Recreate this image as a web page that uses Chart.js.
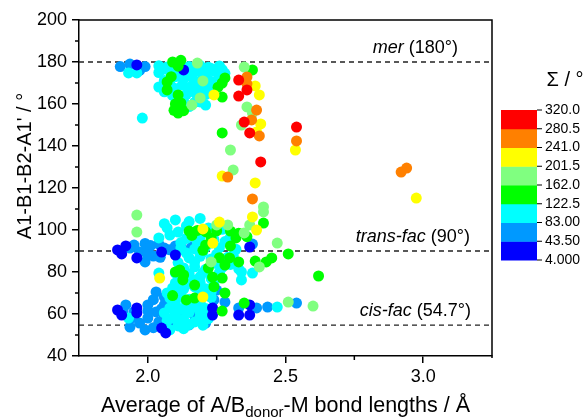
<!DOCTYPE html>
<html><head><meta charset="utf-8">
<script src="https://cdn.jsdelivr.net/npm/chart.js@4"></script>
<style>html,body{margin:0;padding:0;background:#fff}</style>
</head><body><canvas id="c" width="586" height="420"></canvas>
<script>
// ---- data ----
const xTicks = [2.0, 2.5, 3.0];
const xMinor = [2.25, 2.75];
const yTicks = [40, 60, 80, 100, 120, 140, 160, 180, 200];
const yMinor = [50, 70, 90, 110, 130, 150, 170, 190];
const refAngles = [180, 90, 54.7];
const refNames = ['mer', 'trans-fac', 'cis-fac'];
const refValues = ['(180°)', '(90°)', '(54.7°)'];
const sigmaBounds = ['4.000', '43.50', '83.00', '122.5', '162.0', '201.5', '241.0', '280.5', '320.0'];
const bandColors = ['#0000FF', '#0099FF', '#00FFFF', '#00FF00', '#80FF80', '#FFFF00', '#FF8000', '#FF0000'];

const sRed = [[2.33,171.4],[2.36,166.7],[2.33,163.8],[2.35,151.4],[2.37,146.2],[2.41,132.4],[2.54,149.0]];
const sOrange = [[2.36,172.9],[2.36,169.6],[2.395,157.1],[2.377,152.4],[2.405,144.8],[2.29,125.2],[2.38,114.8],[2.54,142.4],[2.92,127.6],[2.94,129.5]];
const sYellow = [[2.39,168.6],[2.405,164.3],[2.41,150.5],[2.395,146.7],[2.536,138.1],[2.27,125.7],[2.39,122.4],[2.38,106.2],[2.395,100],[2.975,115.2],[2.24,164.3],[2.26,103.8],[2.2,100.5],[2.236,93.8],[2.043,77.1],[2.2,68.1]];
const sLightGreen = [[2.18,179.5],[2.2,171],[2.16,159.5],[2.19,162.9],[2.35,177.6],[2.36,158.6],[2.38,155.7],[2.34,150],[2.3,138.1],[2.31,128.6],[2.42,111],[2.42,108.6],[2.35,98.6],[2.37,102.4],[1.96,107.1],[1.96,99],[2.25,102.4],[2.29,102.4],[2.47,93.8],[2.51,65.7],[2.6,63.8],[2.23,84.8],[2.405,82.4]];
const sGreen = [[2.09,180],[2.11,178],[2.12,180.8],[2.07,170.5],[2.07,166.7],[2.085,173],[2.11,164.3],[2.12,160.5],[2.11,155.7],[2.12,158],[2.1,160],[2.095,157],[2.13,156.8],[2.27,170],[2.28,172.4],[2.27,163.3],[2.255,168],[2.38,176.2],[2.27,146.2],
[2.42,103.3],[2.51,88.6],[2.45,86.7],[2.43,84.8],[2.39,85.2],[2.62,78.1],[2.35,65.2],[2.27,61.4],[2.15,99.5],[2.18,99.8],[2.21,99.2],[2.25,99.6],[2.30,99.5],[2.1,80],[2.116,81],[2.127,76.2],[2.235,77.6],[2.27,77.1],[2.297,86.7],[2.14,66.7],[2.28,70],[2.17,73.8],[2.22,81.9],[2.28,83.3],[2.32,96.2],[2.33,84.8],[2.17,67.6],[2.30,92.4],[2.21,92.9],
[2.16,97.4],[2.23,96.3],[2.2,90.3],[2.26,86.8],[2.13,78.6],[2.24,73],[2.09,68.8],[2.33,98.5],[2.36,96.8]];
const sCyan = [[2.04,178.2],[2.07,177.6],[2.10,178.4],[2.15,177.9],[2.19,178.3],[2.22,177.5],[2.26,178.1],
[2.04,175.0],[2.08,175.6],[2.12,174.8],[2.17,175.3],[2.21,175.0],[2.24,175.7],[2.28,174.6],
[2.06,171.2],[2.13,171.8],[2.17,171.0],[2.22,171.6],[2.25,171.1],
[2.10,167.4],[2.15,167.9],[2.19,167.2],[2.23,168.0],
[2.09,164.1],[2.14,164.6],[2.18,164.0],[2.21,164.5],
[2.13,161.2],[2.17,160.8],[2.04,168.1],[2.11,161.4],[2.21,159.5],[1.98,153.3],[1.93,174.8],[1.96,174.8],
[2.055,176.5],[2.09,176],[2.14,176.8],[2.185,176.2],[2.23,176.9],[2.27,176.4],[2.1,173],[2.15,173.4],[2.2,172.8],[2.26,173.2],[2.08,169.5],[2.125,169],[2.165,169.4],[2.21,169.6],[2.06,165.8],[2.16,166],[2.2,165.6],[2.12,162.8],[2.19,161],[2.15,158.8],
[2.10,104.8],[2.15,104],[2.19,105.5],[2.07,101],[2.14,101.9],[2.22,101],[2.27,100.3],
[2.04,96.2],[2.08,97.6],[2.14,96],[2.19,96.8],[2.24,95.5],[2.30,96.6],
[2.12,91.4],[2.17,91],[2.21,92],[2.26,91.6],[2.32,90.8],
[2.15,86.7],[2.19,87.5],[2.23,86.2],[2.29,87],
[2.13,81.9],[2.17,82.5],[2.21,81.3],[2.27,82.2],[2.33,81.5],
[2.12,77.1],[2.16,76.5],[2.19,77.8],[2.23,76.8],
[2.09,72.4],[2.13,71.8],[2.17,72.9],[2.21,72],
[2.08,67.6],[2.12,68.2],[2.15,67],[2.23,67.9],
[2.08,62.9],[2.12,62.2],[2.17,63.4],[2.21,62.6],
[2.09,58.1],[2.13,57.5],[2.19,58.6],[2.22,57.8],
[2.11,54.3],[2.15,55],[2.04,79.5],[2.34,80],[2.38,79.5],[2.34,76.2],[2.47,63.3],[1.93,58.1],
[2.06,103],[2.11,99],[2.17,99],[2.12,94],[2.18,94],[2.23,93.8],[2.28,94.5],[2.14,89],[2.2,89.5],[2.25,88.5],[2.31,88],[2.11,84.5],[2.17,84.8],[2.25,84],[2.3,83.6],[2.1,79.5],[2.15,79.2],[2.2,79.6],[2.26,79.8],[2.1,74.8],[2.15,74.5],[2.19,75],[2.24,74],[2.07,70],[2.11,70.4],[2.19,70],[2.23,70.5],[2.1,65],[2.14,65.3],[2.19,65.5],[2.06,60.5],[2.1,60.2],[2.15,60.8],[2.19,61],[2.07,56.8],[2.11,56.5],[2.17,56.2],[2.2,54.7],[2.13,53],[2.08,52.5]];
const sAzure = [[1.90,177.8],[1.99,177.8],[1.935,179],[1.97,176],
[1.935,91.4],[1.97,89.5],[2.0,90.5],[2.02,87.6],[2.06,91.4],[2.1,92.4],[2.13,90.5],[1.99,84.8],[2.04,93.3],[2.38,93.3],
[1.95,92.8],[1.99,93.6],[2.01,92.6],[2.08,90.6],[2.12,93.2],[2.16,92],[2.0,88.2],[2.045,87],
[2.03,70.5],[2.0,64.3],[1.92,64.3],[1.95,61],[2.0,58.1],[2.04,56.2],[2.08,54.3],[1.99,52.4],[1.935,53.8],[2.06,64.3],[2.03,61],[2.15,54.8],[2.21,55.7],[2.25,71.4],[2.28,65.7],[2.33,62.9],[2.395,62.9],[2.435,63.3],[2.54,65.2],[2.22,61.9],[2.24,66.7],
[1.94,58],[1.97,55.7],[2.02,53.5],[2.06,58.5],[2.1,57],[1.91,61.5],[2.0,61.5],[2.05,62.5],[2.09,63.4],[2.13,59.6],[2.17,58.9],[2.02,66.8],[2.06,68]];
const sBlue = [[1.96,178.6],[2.13,176.2],
[1.89,90.5],[1.92,92.4],[1.905,88.6],[1.96,86.7],[2.05,89.5],[2.1,88.1],[2.37,91.9],
[1.905,59.5],[1.89,61.9],[1.96,60.5],[1.96,62.9],[2.05,53.3],[2.065,51],[2.235,62.9],[2.235,59.5],[2.33,59.5],[2.37,64.3],[2.37,59.5]];

const X_MIN = 1.75, X_MAX = 3.25, Y_MIN = 40, Y_MAX = 200;
const FONT = '"Liberation Sans", Arial, sans-serif';

const series = [
  [sRed, bandColors[7], 1], [sOrange, bandColors[6], 2], [sYellow, bandColors[5], 3],
  [sLightGreen, bandColors[4], 4], [sGreen, bandColors[3], 5], [sBlue, bandColors[0], 6],
  [sCyan, bandColors[2], 7], [sAzure, bandColors[1], 8]
];
const datasets = series.map(([arr, col, ord]) => ({
  type: 'scatter', data: arr.map(p => ({x: p[0], y: p[1]})),
  backgroundColor: col, borderWidth: 0, pointRadius: 5.5, pointHoverRadius: 5.5, order: ord
}));
refAngles.forEach(a => datasets.push({
  type: 'line', data: [{x: X_MIN, y: a}, {x: X_MAX, y: a}], borderColor: '#222', borderWidth: 1.3,
  borderDash: [5, 4], pointRadius: 0, fill: false, order: 20
}));

const deco = {
  id: 'deco',
  afterDatasetsDraw(chart) {
    const {ctx, chartArea: ca, scales: {x, y}} = chart;
    ctx.save();
    ctx.fillStyle = '#000';
    ctx.textBaseline = 'middle';
    const rightOff = [34, 22, 21];
    refAngles.forEach((a, i) => {
      const py = y.getPixelForValue(a) - 14;
      ctx.font = '18px ' + FONT;
      const vw = ctx.measureText(' ' + refValues[i]).width;
      const xr = ca.right - rightOff[i];
      ctx.textAlign = 'right';
      ctx.fillText(' ' + refValues[i], xr, py);
      ctx.font = 'italic 18px ' + FONT;
      ctx.fillText(refNames[i], xr - vw, py);
    });
    ctx.strokeStyle = '#000'; ctx.lineWidth = 1.5;
    ctx.beginPath();
    ctx.moveTo(ca.left, ca.top); ctx.lineTo(ca.right, ca.top); ctx.lineTo(ca.right, ca.bottom + 2);
    ctx.stroke();
    ctx.beginPath();
    xMinor.forEach(v => { const px = x.getPixelForValue(v); ctx.moveTo(px, ca.bottom); ctx.lineTo(px, ca.bottom + 4); });
    yMinor.forEach(v => { const py = y.getPixelForValue(v); ctx.moveTo(ca.left, py); ctx.lineTo(ca.left - 4, py); });
    ctx.stroke();
    ctx.fillStyle = '#000';
    ctx.textBaseline = 'alphabetic';
    const t1 = 'Average of A/B', t3 = '-M bond lengths / Å';
    ctx.font = '21.5px ' + FONT; const w1 = ctx.measureText(t1).width, w3 = ctx.measureText(t3).width;
    ctx.font = '15px ' + FONT; const w2 = ctx.measureText('donor').width;
    let sx = (ca.left + ca.right) / 2 - (w1 + w2 + w3) / 2;
    const by = 412;
    ctx.textAlign = 'left';
    ctx.font = '21.5px ' + FONT; ctx.fillText(t1, sx, by);
    ctx.font = '15px ' + FONT; ctx.fillText('donor', sx + w1, by + 5);
    ctx.font = '21.5px ' + FONT; ctx.fillText(t3, sx + w1 + w2, by);
    ctx.save();
    ctx.font = '20px ' + FONT;
    ctx.translate(31, (ca.top + ca.bottom) / 2 - 22);
    ctx.rotate(-Math.PI / 2);
    ctx.textAlign = 'center';
    ctx.fillText("A1-B1-B2-A1' / °", 0, 0);
    ctx.restore();
    const cbL = 501, cbR = 537, cbT = 110, cbB = 260;
    const n = bandColors.length, bh = (cbB - cbT) / n;
    for (let i = 0; i < n; i++) {
      ctx.fillStyle = bandColors[i];
      ctx.fillRect(cbL, cbB - (i + 1) * bh, cbR - cbL, bh + 0.5);
    }
    ctx.strokeStyle = '#000'; ctx.lineWidth = 1;
    ctx.fillStyle = '#000';
    ctx.font = '14px ' + FONT; ctx.textAlign = 'left'; ctx.textBaseline = 'middle';
    sigmaBounds.forEach((lab, i) => {
      const py = cbB - i * bh;
      ctx.beginPath(); ctx.moveTo(cbR, py); ctx.lineTo(cbR + 5, py); ctx.stroke();
      ctx.fillText(lab, cbR + 8, py);
    });
    ctx.font = '20px ' + FONT; ctx.textAlign = 'center';
    ctx.fillText('Σ / °', 565, 80);
    ctx.restore();
  }
};

new Chart(document.getElementById('c'), {
  type: 'scatter',
  data: {datasets},
  plugins: [deco],
  options: {
    responsive: false, animation: false, devicePixelRatio: 1,
    layout: {padding: {left: 0, right: 94, top: 20, bottom: 0}},
    plugins: {legend: {display: false}, tooltip: {enabled: false}},
    scales: {
      x: {
        type: 'linear', min: X_MIN, max: X_MAX,
        afterBuildTicks: s => { s.ticks = xTicks.map(v => ({value: v})); },
        afterFit: s => { s.height = 64; },
        ticks: {font: {size: 18, family: FONT}, color: '#000', padding: 3, callback: v => v.toFixed(1), maxRotation: 0},
        grid: {drawOnChartArea: false, drawTicks: true, tickLength: 7, color: '#000', lineWidth: 1.5},
        border: {color: '#000', width: 1.5}
      },
      y: {
        type: 'linear', min: Y_MIN, max: Y_MAX,
        afterBuildTicks: s => { s.ticks = yTicks.map(v => ({value: v})); },
        afterFit: s => { s.width = 79; },
        ticks: {font: {size: 18, family: FONT}, color: '#000', padding: 5, callback: v => String(v)},
        grid: {drawOnChartArea: false, drawTicks: true, tickLength: 7, color: '#000', lineWidth: 1.5},
        border: {color: '#000', width: 1.5}
      }
    }
  }
});
</script>
</body></html>
